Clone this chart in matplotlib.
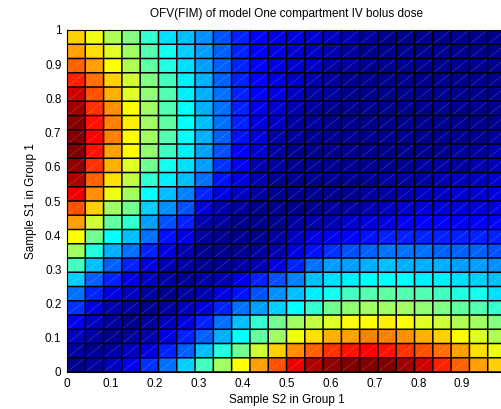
import numpy as np
import matplotlib
matplotlib.use('Agg')
import matplotlib.pyplot as plt
from matplotlib.colors import ListedColormap, Normalize
from matplotlib.collections import LineCollection

FIG_W, FIG_H = 501, 409
DPI          = 100
FONT         = ['Liberation Sans', 'DejaVu Sans']
OUT_FILE     = 'out.png'

TITLE  = 'OFV(FIM) of model One compartment IV bolus dose'
XLABEL = 'Sample S2 in Group 1'
YLABEL = 'Sample S1 in Group 1'

# sample grid (25 nodes -> 24x24 faces) for S2 (x) and S1 (y)
s2_edges = np.linspace(0, 1, 25)
s1_edges = np.linspace(0, 1, 25)

x_ticks       = [0, 0.1, 0.2, 0.3, 0.4, 0.5, 0.6, 0.7, 0.8, 0.9]
x_tick_labels = ['0', '0.1', '0.2', '0.3', '0.4', '0.5', '0.6', '0.7', '0.8', '0.9']
y_ticks       = [0, 0.1, 0.2, 0.3, 0.4, 0.5, 0.6, 0.7, 0.8, 0.9, 1]
y_tick_labels = ['0', '0.1', '0.2', '0.3', '0.4', '0.5', '0.6', '0.7', '0.8', '0.9', '1']

# OFV per face, on the 64-level colour scale; row = S1 (bottom up), col = S2
ofv = np.array([
    [ 1,  2,  4,  7, 11, 15, 21, 28, 34, 40, 46, 51, 57, 61, 63, 64, 64, 64, 62, 59, 54, 50, 46, 43],
    [ 2,  1,  2,  4,  6, 10, 14, 20, 26, 31, 37, 43, 47, 50, 53, 55, 56, 55, 53, 51, 49, 46, 42, 39],
    [ 4,  2,  1,  2,  3,  6, 10, 14, 19, 24, 30, 34, 39, 42, 45, 46, 48, 48, 47, 45, 43, 40, 38, 35],
    [ 7,  4,  2,  1,  2,  4,  6, 10, 15, 20, 27, 31, 34, 36, 38, 40, 40, 41, 40, 38, 37, 35, 34, 32],
    [11,  6,  3,  2,  1,  2,  4,  6, 10, 15, 18, 21, 24, 27, 31, 33, 34, 34, 34, 33, 32, 30, 29, 27],
    [15, 10,  6,  4,  2,  1,  2,  3,  6,  9, 13, 17, 20, 23, 25, 28, 29, 30, 29, 29, 28, 26, 25, 22],
    [21, 14, 10,  6,  4,  2,  1,  2,  3,  6, 10, 13, 16, 20, 22, 23, 24, 24, 24, 23, 23, 22, 21, 20],
    [28, 20, 14, 10,  6,  3,  2,  1,  1,  2,  3,  6, 10, 15, 18, 18, 19, 20, 19, 19, 19, 18, 18, 17],
    [34, 26, 19, 15, 10,  6,  3,  1,  1,  1,  2,  3,  6,  9, 11, 13, 14, 15, 15, 15, 14, 14, 14, 13],
    [40, 31, 24, 20, 15,  9,  6,  2,  1,  1,  1,  2,  4,  6,  7,  8,  9, 10, 10, 10, 10, 10, 10, 10],
    [46, 37, 30, 27, 18, 13, 10,  3,  2,  1,  1,  1,  2,  3,  3,  5,  6,  6,  7,  8,  8,  8,  8,  8],
    [51, 43, 34, 31, 21, 17, 13,  6,  3,  2,  1,  1,  1,  1,  2,  2,  3,  4,  5,  6,  6,  6,  6,  6],
    [57, 47, 39, 34, 24, 20, 16, 10,  6,  4,  2,  1,  1,  1,  1,  1,  2,  2,  3,  4,  4,  5,  5,  6],
    [61, 50, 42, 36, 27, 23, 20, 15,  9,  6,  3,  1,  1,  1,  1,  1,  1,  2,  2,  2,  3,  4,  4,  5],
    [63, 53, 45, 38, 31, 25, 22, 18, 11,  7,  3,  2,  1,  1,  1,  1,  1,  1,  1,  2,  2,  2,  3,  4],
    [64, 55, 46, 40, 33, 28, 23, 18, 13,  8,  5,  2,  1,  1,  1,  1,  1,  1,  1,  1,  1,  2,  2,  3],
    [64, 56, 48, 40, 34, 29, 24, 19, 14,  9,  6,  3,  2,  1,  1,  1,  1,  1,  1,  1,  1,  1,  1,  2],
    [64, 55, 48, 41, 34, 30, 24, 20, 15, 10,  6,  4,  2,  2,  1,  1,  1,  1,  1,  1,  1,  1,  1,  1],
    [62, 53, 47, 40, 34, 29, 24, 19, 15, 10,  7,  5,  3,  2,  1,  1,  1,  1,  1,  1,  1,  1,  1,  1],
    [59, 51, 45, 38, 33, 29, 23, 19, 15, 10,  8,  6,  4,  2,  2,  1,  1,  1,  1,  1,  1,  1,  1,  1],
    [54, 49, 43, 37, 32, 28, 23, 19, 14, 10,  8,  6,  4,  3,  2,  1,  1,  1,  1,  1,  1,  1,  1,  1],
    [50, 46, 40, 35, 30, 26, 22, 18, 14, 10,  8,  6,  5,  4,  2,  2,  1,  1,  1,  1,  1,  1,  1,  1],
    [46, 42, 38, 34, 29, 25, 21, 18, 14, 10,  8,  6,  5,  4,  3,  2,  1,  1,  1,  1,  1,  1,  1,  1],
    [43, 39, 35, 32, 27, 22, 20, 17, 13, 10,  8,  6,  6,  5,  4,  3,  2,  1,  1,  1,  1,  1,  1,  1],
])


def matlab_jet(m=64):
    # same construction as MATLAB's jet(m)
    n = int(np.ceil(m / 4))
    u = np.concatenate([np.arange(1, n + 1) / n, np.ones(n - 1), np.arange(n, 0, -1) / n])
    g = int(np.ceil(n / 2)) - (m % 4 == 1) + np.arange(1, len(u) + 1)
    r = g + n
    b = g - n
    cmap = np.zeros((m, 3))
    for idx, col in ((r, 0), (g, 1), (b, 2)):
        ok = (idx >= 1) & (idx <= m)
        cmap[idx[ok] - 1, col] = u[ok]
    return ListedColormap(cmap)


def face_diagonals(xe, ye):
    # thin seams across every face, lower-left to upper-right
    segs = []
    for j in range(len(ye) - 1):
        for i in range(len(xe) - 1):
            segs.append([(xe[i], ye[j]), (xe[i + 1], ye[j + 1])])
    return segs


if __name__ == '__main__':
    plt.rcParams['font.family'] = FONT

    fig = plt.figure(figsize=(FIG_W / DPI, FIG_H / DPI), dpi=DPI)
    # axes runs a few pixels past the right edge of the canvas
    ax = fig.add_axes([67 / FIG_W, 37 / FIG_H, 439 / FIG_W, 342 / FIG_H])

    ax.pcolormesh(s2_edges, s1_edges, ofv, cmap=matlab_jet(64),
                  norm=Normalize(vmin=0.5, vmax=64.5),
                  edgecolors='face', linewidth=0, zorder=1)
    ax.add_collection(LineCollection(face_diagonals(s2_edges, s1_edges),
                                     colors='white', linewidths=0.4, alpha=0.25, zorder=2))
    # black face edges
    vl = ax.vlines(s2_edges, 0, 1, colors='k', linewidth=1.1, zorder=3)
    hl = ax.hlines(s1_edges, 0, 1, colors='k', linewidth=1.1, zorder=3)
    vl.set_snap(False)
    hl.set_snap(False)

    ax.set_xlim(0, 1)
    ax.set_ylim(0, 1)
    ax.set_xticks(x_ticks)
    ax.set_xticklabels(x_tick_labels)
    ax.set_yticks(y_ticks)
    ax.set_yticklabels(y_tick_labels)
    ax.tick_params(direction='in', length=0, labelsize=8.5, pad=4, colors='black')
    for sp in ax.spines.values():
        sp.set_linewidth(0.8)

    ax.set_title(TITLE, fontsize=8.5, pad=9)
    ax.set_xlabel(XLABEL, fontsize=8.5, labelpad=3)
    ax.set_ylabel(YLABEL, fontsize=8.5, labelpad=6)

    fig.savefig(OUT_FILE, dpi=DPI)
    plt.close(fig)
